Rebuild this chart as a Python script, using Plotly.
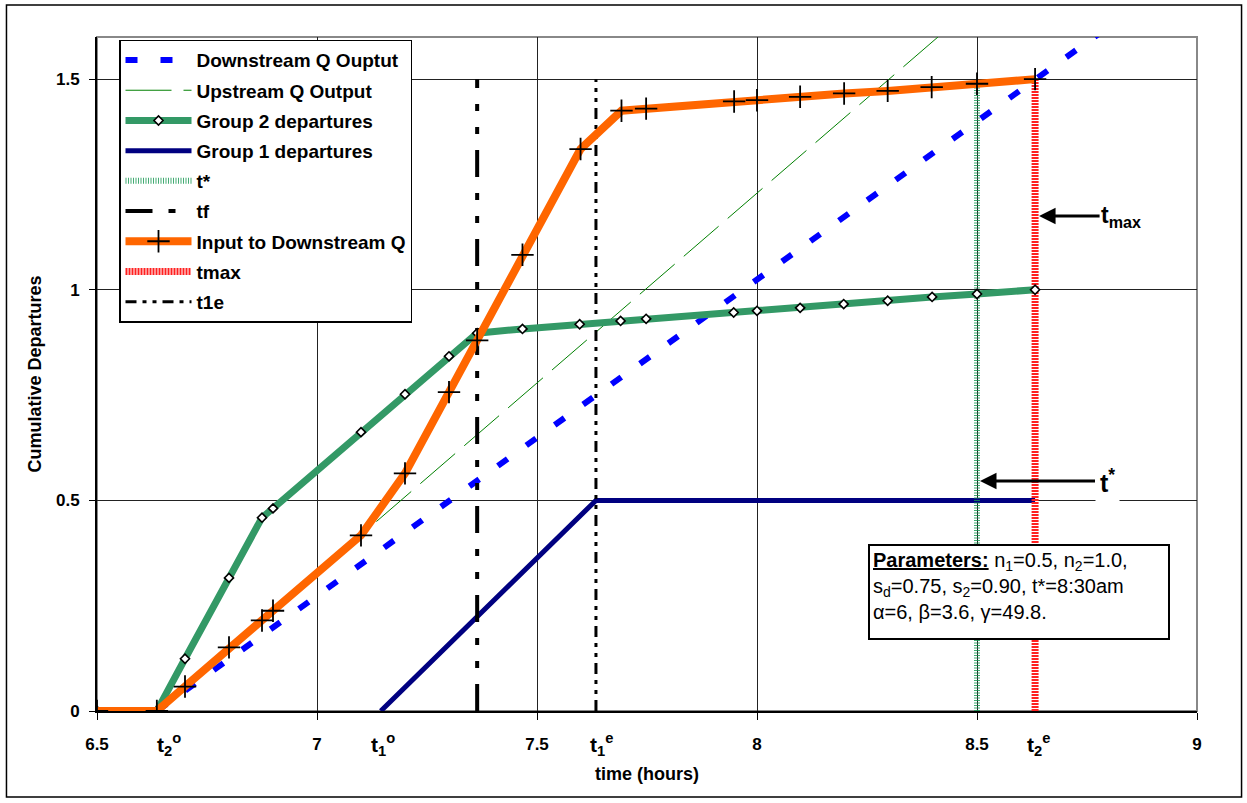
import plotly.graph_objects as go

# ---- key times (hours) ----
t2o = 6.636
t1o = 7.145
tf = 7.364
t1e = 7.634
tstar = 8.5
t2e = 8.632

# ---- series ----
group2_x = [6.5, 6.636, 6.70, 6.80, 6.875, 6.90, 7.10, 7.20, 7.30, 7.364, 7.467, 7.597,
            7.69, 7.748, 7.947, 8.0, 8.098, 8.197, 8.297, 8.398, 8.5, 8.632]
group2_y = [0, 0, 0.124, 0.316, 0.459, 0.481, 0.662, 0.752, 0.842, 0.897, 0.907, 0.918,
            0.926, 0.931, 0.946, 0.950, 0.957, 0.966, 0.974, 0.983, 0.990, 1.0]

input_x = [6.5, 6.636, 6.70, 6.80, 6.875, 6.90, 7.10, 7.20, 7.30, 7.364, 7.467, 7.599,
           7.692, 7.748, 7.948, 8.0, 8.098, 8.198, 8.297, 8.397, 8.5, 8.632]
input_y = [0, 0, 0.058, 0.151, 0.215, 0.238, 0.417, 0.564, 0.757, 0.880, 1.083, 1.334,
           1.425, 1.430, 1.447, 1.450, 1.458, 1.466, 1.472, 1.481, 1.489, 1.5]

downstream_x = [6.636, 8.9]
downstream_y = [0, 1.70]

upstream_x = [6.636, 8.5]
upstream_y = [0, 1.68]

group1_x = [7.145, 7.634, 8.632]
group1_y = [0, 0.5, 0.5]

vline_y = [0, 1.5]

x_ticks = [6.5, 7, 7.5, 8, 8.5, 9]
x_tick_labels = ["6.5", "7", "7.5", "8", "8.5", "9"]
y_ticks = [0, 0.5, 1, 1.5]
y_tick_labels = ["0", "0.5", "1", "1.5"]

FONT = "Liberation Sans, Arial, sans-serif"

fig = go.Figure()

# drawing order (bottom -> top); legendrank controls the legend order
fig.add_trace(go.Scatter(x=downstream_x, y=downstream_y, mode="lines", name="Downstream Q Ouptut",
                         line=dict(color="#0000FF", width=6, dash="12px,23px"),
                         legendrank=1, legendgroup="g1"))
fig.add_trace(go.Scatter(x=upstream_x, y=upstream_y, mode="lines", name="Upstream Q Output",
                         line=dict(color="#008000", width=1, dash="46px,12px"),
                         legendrank=2, legendgroup="g2"))
fig.add_trace(go.Scatter(x=group1_x, y=group1_y, mode="lines", name="Group 1 departures",
                         line=dict(color="#000080", width=5),
                         legendrank=4, legendgroup="g4"))
fig.add_trace(go.Scatter(x=[tstar, tstar], y=vline_y, mode="lines", name="t*",
                         line=dict(color="rgba(20,150,80,0.8)", width=6, dash="1px,1.5px"),
                         legendrank=5, legendgroup="g5"))
fig.add_trace(go.Scatter(x=[tf, tf], y=vline_y, mode="lines", name="tf",
                         line=dict(color="black", width=4, dash="27px,16px,7px,16px,7px,16px"),
                         legendrank=6, legendgroup="g6"))
fig.add_trace(go.Scatter(x=[t2e, t2e], y=vline_y, mode="lines", name="tmax",
                         line=dict(color="#FF2020", width=7, dash="2px,1px"),
                         legendrank=8, legendgroup="g8"))
fig.add_trace(go.Scatter(x=[t1e, t1e], y=vline_y, mode="lines", name="t1e",
                         line=dict(color="black", width=3, dash="11px,6px,4px,6px,4px,6px"),
                         legendrank=9, legendgroup="g9"))
fig.add_trace(go.Scatter(x=group2_x, y=group2_y, mode="lines+markers", name="Group 2 departures",
                         line=dict(color="#339966", width=7),
                         marker=dict(symbol="diamond", size=7, color="white",
                                     line=dict(color="black", width=1.6)),
                         legendrank=3, legendgroup="g3"))
fig.add_trace(go.Scatter(x=input_x, y=input_y, mode="lines+markers", name="Input to Downstream Q",
                         line=dict(color="#FF6600", width=8),
                         marker=dict(symbol="cross-thin", size=16, color="black",
                                     line=dict(color="black", width=1.8)),
                         legendrank=7, legendgroup="g7"))

annotations = []
# time labels under the x axis
for xv, txt, xs in [(t2o, "t<sub>2</sub><sup>o</sup>", 12), (t1o, "t<sub>1</sub><sup>o</sup>", 2),
                    (t1e, "t<sub>1</sub><sup>e</sup>", 6), (t2e, "t<sub>2</sub><sup>e</sup>", 3)]:
    annotations.append(dict(x=xv, y=-0.05, xref="x", yref="paper", text="<b>" + txt + "</b>",
                            showarrow=False, xanchor="center", yanchor="middle", xshift=xs,
                            font=dict(family=FONT, size=21, color="black")))

annotations.append(dict(x=t2e, y=1.175, xref="x", yref="y", text="<b>t<sub>max</sub></b>",
                        showarrow=True, ax=86, ay=0, arrowhead=2, arrowsize=1.1, arrowwidth=3,
                        arrowcolor="black", standoff=4,
                        font=dict(family=FONT, size=23, color="black")))
annotations.append(dict(x=tstar, y=0.546, xref="x", yref="y", text="<b>t<sup>*</sup></b>",
                        showarrow=True, ax=130, ay=0, arrowhead=2, arrowsize=1.1, arrowwidth=3,
                        arrowcolor="black", standoff=3, bgcolor="white", borderpad=4,
                        font=dict(family=FONT, size=25, color="black")))

param_text = ("<b><u>Parameters:</u></b> n<sub>1</sub>=0.5, n<sub>2</sub>=1.0,<br>"
              "s<sub>d</sub>=0.75, s<sub>2</sub>=0.90, t*=8:30am<br>"
              "α=6, β=3.6, γ=49.8.")
annotations.append(dict(x=0.7009, y=0.2478, xref="paper", yref="paper", text=param_text,
                        showarrow=False, xanchor="left", yanchor="top", align="left",
                        width=292, height=86, valign="top",
                        bordercolor="black", borderwidth=2, borderpad=3,
                        bgcolor="white",
                        font=dict(family=FONT, size=20, color="black")))

shapes = [
    # plot area frame (grey)
    dict(type="rect", xref="paper", yref="paper", x0=0, x1=1, y0=0, y1=1,
         line=dict(color="#888888", width=2), layer="below"),
    # outer chart border
    dict(type="rect", xref="paper", yref="paper", x0=-0.0823, x1=1.0405, y0=-0.1276, y1=1.0475,
         line=dict(color="black", width=1.5), layer="below"),
]

fig.update_layout(
    width=1247, height=803,
    margin=dict(l=97, r=50, t=37, b=92),
    paper_bgcolor="white", plot_bgcolor="white",
    font=dict(family=FONT, color="black"),
    showlegend=True,
    legend=dict(x=0.02, y=0.996, xanchor="left", yanchor="top", bgcolor="white",
                bordercolor="black", borderwidth=1.5, itemwidth=66,
                font=dict(family=FONT, size=19, color="black", weight="bold"),
                traceorder="grouped", tracegroupgap=2.5),
    xaxis=dict(range=[6.5, 9], tickvals=x_ticks, ticktext=x_tick_labels,
               showgrid=True, gridcolor="#222222", gridwidth=1, zeroline=False,
               showline=True, linecolor="black", linewidth=2,
               ticks="outside", ticklen=7, tickcolor="black", tickwidth=1,
               ticklabelstandoff=10,
               tickfont=dict(family=FONT, size=17, color="black", weight="bold"),
               title=dict(text="<b>time (hours)</b>", standoff=14,
                          font=dict(family=FONT, size=18, color="black"))),
    yaxis=dict(range=[0, 1.6], tickvals=y_ticks, ticktext=y_tick_labels,
               showgrid=True, gridcolor="#222222", gridwidth=1, zeroline=False,
               showline=True, linecolor="black", linewidth=2,
               ticks="outside", ticklen=6, tickcolor="black", tickwidth=1,
               ticklabelstandoff=6,
               tickfont=dict(family=FONT, size=17, color="black", weight="bold"),
               title=dict(text="<b>Cumulative Departures</b>", standoff=10,
                          font=dict(family=FONT, size=18, color="black"))),
    annotations=annotations,
    shapes=shapes,
)

fig.write_html("out.html")
